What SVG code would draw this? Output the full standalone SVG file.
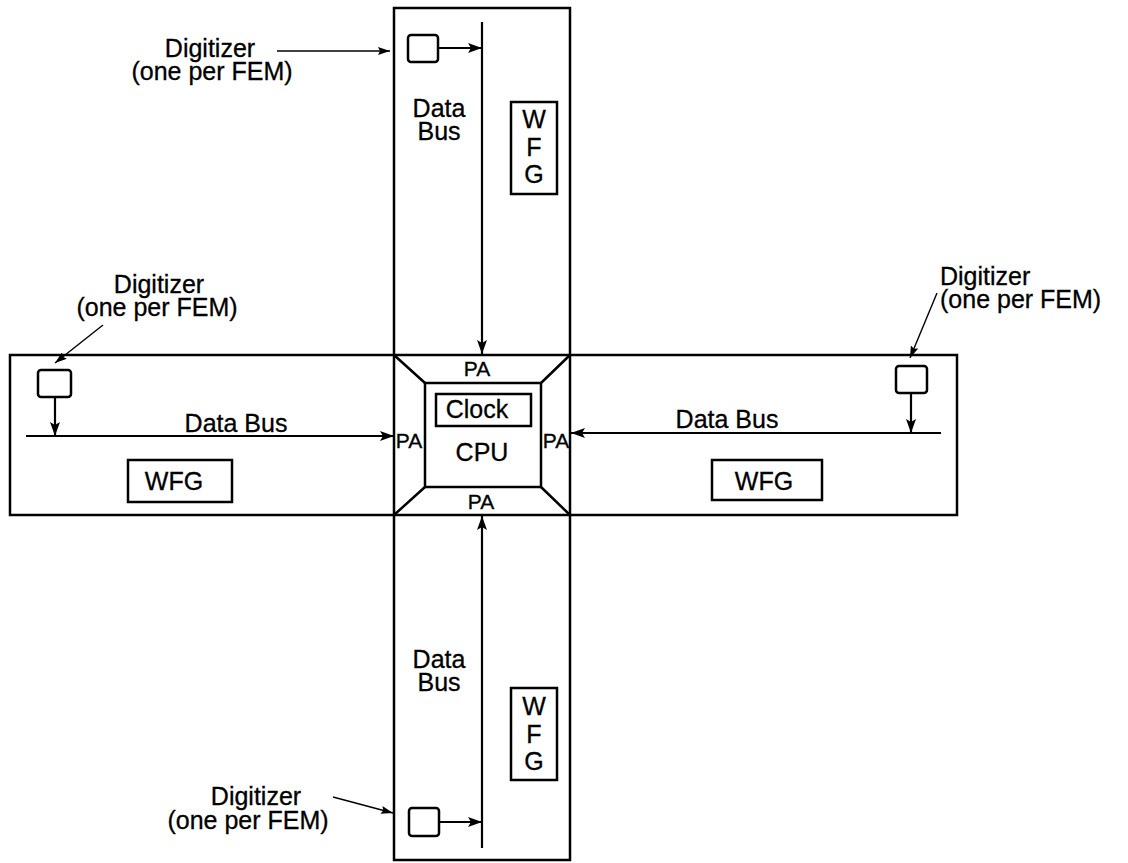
<svg xmlns="http://www.w3.org/2000/svg" width="1128" height="863" viewBox="0 0 1128 863">
<defs>
<style>
.box{fill:none;stroke:#000;stroke-width:2.5}
.sq{fill:#fff;stroke:#000;stroke-width:2.5}
.bus{fill:none;stroke:#000;stroke-width:2.2}
.ptr{fill:none;stroke:#000;stroke-width:1.4}
text{font-family:"Liberation Sans",Arial,sans-serif;fill:#000;stroke:#000;stroke-width:0.3}
.t{font-size:25px}
.pa{font-size:21px}
.m{text-anchor:middle}
</style>
<marker id="ah" viewBox="0 0 14 10" refX="14" refY="5" markerWidth="14" markerHeight="10" markerUnits="userSpaceOnUse" orient="auto">
<path d="M0,0 L14,5 L0,10 L3,5 z" fill="#000"/>
</marker>
<marker id="ap" viewBox="0 0 12 8" refX="12" refY="4" markerWidth="12" markerHeight="8" markerUnits="userSpaceOnUse" orient="auto">
<path d="M0,0 L12,4 L0,8 L2,4 z" fill="#000"/>
</marker>
</defs>
<rect width="1128" height="863" fill="#fff"/>

<g id="frame">
<rect class="box" x="394" y="8" width="176" height="852"/>
<rect class="box" x="10" y="355" width="947" height="160"/>
</g>

<g id="cpu">
<rect class="box" x="425" y="383" width="116" height="104"/>
<path class="box" d="M394,355 L425,383 M570,355 L541,383 M570,515 L541,487 M394,515 L425,487"/>
<rect class="box" x="436" y="394" width="95" height="32"/>
<text class="t m" x="477" y="418">Clock</text>
<text class="t m" x="482" y="461">CPU</text>
<text class="pa m" x="477" y="376">PA</text>
<text class="pa m" x="481" y="509">PA</text>
<text class="pa m" x="409" y="448">PA</text>
<text class="pa m" x="556" y="448">PA</text>
</g>

<g id="top-fem">
<rect class="sq" x="408" y="35" width="30" height="27" rx="3"/>
<rect class="box" x="511" y="102" width="46" height="92"/>
<text class="t m" x="534" y="128">W</text>
<text class="t m" x="534" y="156">F</text>
<text class="t m" x="534" y="183">G</text>
<text class="t m" x="439" y="117">Data</text>
<text class="t m" x="439" y="140">Bus</text>
</g>

<g id="bottom-fem">
<rect class="sq" x="409" y="808" width="30" height="28" rx="3"/>
<rect class="box" x="511" y="688" width="46" height="92"/>
<text class="t m" x="534" y="715">W</text>
<text class="t m" x="534" y="743">F</text>
<text class="t m" x="534" y="770">G</text>
<text class="t m" x="439" y="668">Data</text>
<text class="t m" x="439" y="691">Bus</text>
</g>

<g id="left-fem">
<rect class="sq" x="38" y="370" width="33" height="27" rx="3"/>
<rect class="box" x="128" y="460" width="104" height="42"/>
<text class="t m" x="174" y="490">WFG</text>
<text class="t m" x="236" y="432">Data Bus</text>
</g>

<g id="right-fem">
<rect class="sq" x="896" y="366" width="31" height="27" rx="3"/>
<rect class="box" x="712" y="460" width="110" height="40"/>
<text class="t m" x="764" y="490">WFG</text>
<text class="t m" x="727" y="428">Data Bus</text>
</g>

<g id="labels">
<text class="t m" x="210" y="57">Digitizer</text>
<text class="t m" x="212" y="80">(one per FEM)</text>
<text class="t m" x="159" y="293">Digitizer</text>
<text class="t m" x="157" y="316">(one per FEM)</text>
<text class="t" x="940" y="285">Digitizer</text>
<text class="t" x="940" y="308">(one per FEM)</text>
<text class="t m" x="256" y="805">Digitizer</text>
<text class="t m" x="248" y="829">(one per FEM)</text>
</g>

<g id="connectors">
<line class="bus" x1="482" y1="22" x2="482" y2="354" marker-end="url(#ah)"/>
<line class="bus" x1="482" y1="848" x2="482" y2="516" marker-end="url(#ah)"/>
<line class="bus" x1="26" y1="436" x2="394" y2="436" marker-end="url(#ah)"/>
<line class="bus" x1="941" y1="433" x2="571" y2="433" marker-end="url(#ah)"/>
<line class="bus" x1="438" y1="48" x2="482" y2="48" marker-end="url(#ah)"/>
<line class="bus" x1="439" y1="822" x2="482" y2="822" marker-end="url(#ah)"/>
<line class="bus" x1="55" y1="397" x2="55" y2="436" marker-end="url(#ah)"/>
<line class="bus" x1="911" y1="393" x2="911" y2="433" marker-end="url(#ah)"/>
<line class="ptr" x1="277" y1="51" x2="390" y2="51" marker-end="url(#ap)"/>
<line class="ptr" x1="103" y1="325" x2="55" y2="363" marker-end="url(#ap)"/>
<line class="ptr" x1="937" y1="293" x2="910" y2="358" marker-end="url(#ap)"/>
<line class="ptr" x1="333" y1="797" x2="393" y2="813" marker-end="url(#ap)"/>
</g>
</svg>
